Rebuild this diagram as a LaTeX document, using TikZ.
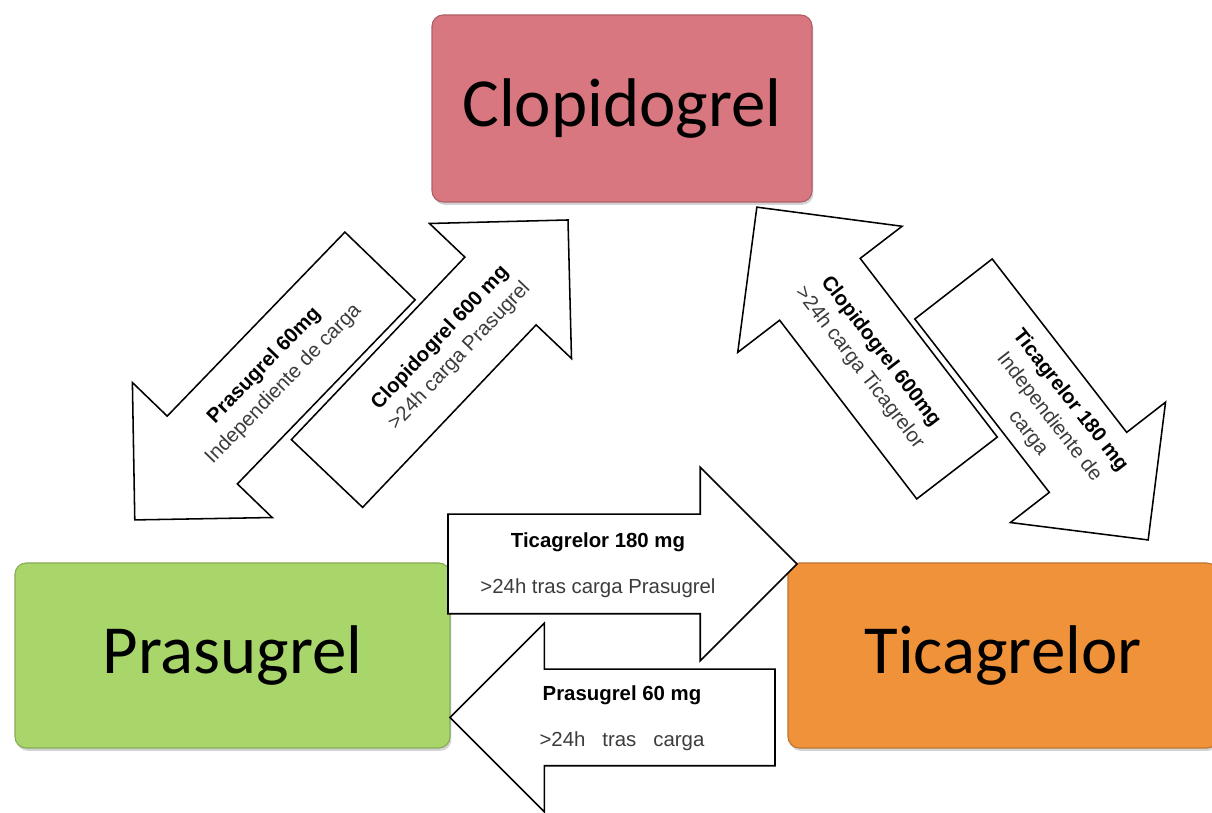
\documentclass[tikz,border=0pt]{standalone}
\usepackage{fontspec}
\setmainfont{Carlito}
\setsansfont{Liberation Sans}
\usepackage{tikz}
\usetikzlibrary{shapes.arrows,shadows}
\usepackage{xcolor}
\definecolor{clopred}{RGB}{217,119,128}
\definecolor{prasgreen}{RGB}{169,214,107}
\definecolor{ticaorange}{RGB}{240,146,58}
\definecolor{notegray}{RGB}{60,60,60}
\newcommand{\bolddose}[1]{\textcolor{black}{\textbf{#1}}}

\begin{document}
\begin{tikzpicture}[
  drug/.style={rounded corners=8pt, line width=0.8pt,
    font=\fontsize{49}{58}\selectfont,
    drop shadow={shadow xshift=1pt, shadow yshift=-2pt, opacity=0.35}},
  blockarrow/.style={single arrow, draw=black, fill=white, line width=1.1pt,
    inner xsep=0pt, outer sep=0pt, single arrow head indent=0pt, anchor=tail},
  dose/.style={font=\sffamily\fontsize{14.5}{19}\selectfont, text=notegray,
    align=center, inner sep=0pt}
]
\useasboundingbox (0,0) rectangle (30.3,20.325);

% The three drugs
\node[drug, fill=clopred, draw=clopred!80!black,
  minimum width=9.5cm, minimum height=4.675cm] (clop) at (15.55,17.6125) {Clopidogrel};
\node[drug, fill=prasgreen, draw=prasgreen!80!black,
  minimum width=10.875cm, minimum height=4.625cm] (pras) at (5.8125,3.9375) {Prasugrel};
\node[drug, fill=ticaorange, draw=ticaorange!80!black,
  minimum width=10.75cm, minimum height=4.625cm] (tica) at (25.075,3.9375) {Ticagrelor};

% Clopidogrel <-> Prasugrel
\node[blockarrow, rotate=226, minimum height=8.825cm, inner ysep=1.2cm,
  single arrow head extend=1.21cm] (a1) at (9.5,13.675) {};
\node[blockarrow, rotate=46.45, minimum height=8.745cm, inner ysep=1.21cm,
  single arrow head extend=1.22cm] (a2) at (8.175,8.4875) {};

% Clopidogrel <-> Ticagrelor
\node[blockarrow, rotate=127.5, minimum height=8.22cm, inner ysep=1.25cm,
  single arrow head extend=1.32cm] (a3) at (23.925,8.625) {};
\node[blockarrow, rotate=-52.2, minimum height=7.94cm, inner ysep=1.205cm,
  single arrow head extend=1.23cm] (a4) at (23.8375,13.1) {};

% Prasugrel <-> Ticagrelor
\node[blockarrow, rotate=0, minimum height=8.725cm, inner ysep=1.225cm,
  single arrow head extend=1.175cm] (a5) at (11.2,6.225) {};
\node[blockarrow, rotate=180, minimum height=8.125cm, inner ysep=1.1875cm,
  single arrow head extend=1.15cm] (a6) at (19.375,2.3875) {};

% Doses
\node[dose, rotate=46] (t1) at (6.85,10.95)
  {\bolddose{Prasugrel 60mg}\\Independiente de carga};
\node[dose, rotate=46.5] (t2) at (11.25,11.65)
  {\bolddose{Clopidogrel 600 mg}\\>24h carga Prasugrel};
\node[dose, rotate=-52.5] (t3) at (21.75,11.325)
  {\bolddose{Clopidogrel 600mg}\\>24h carga Ticagrelor};
\node[dose, rotate=-52] (t4) at (26.225,9.9)
  {\bolddose{Ticagrelor 180 mg}\\Independiente de\\carga};
\node[dose] (t5) at (14.95,6.2)
  {\bolddose{Ticagrelor 180 mg}\\[14pt]>24h tras carga Prasugrel};
\node[dose] (t6) at (15.55,2.3625)
  {\bolddose{Prasugrel 60 mg}\\[14pt]>24h~~~tras~~~carga};

\end{tikzpicture}
\end{document}
